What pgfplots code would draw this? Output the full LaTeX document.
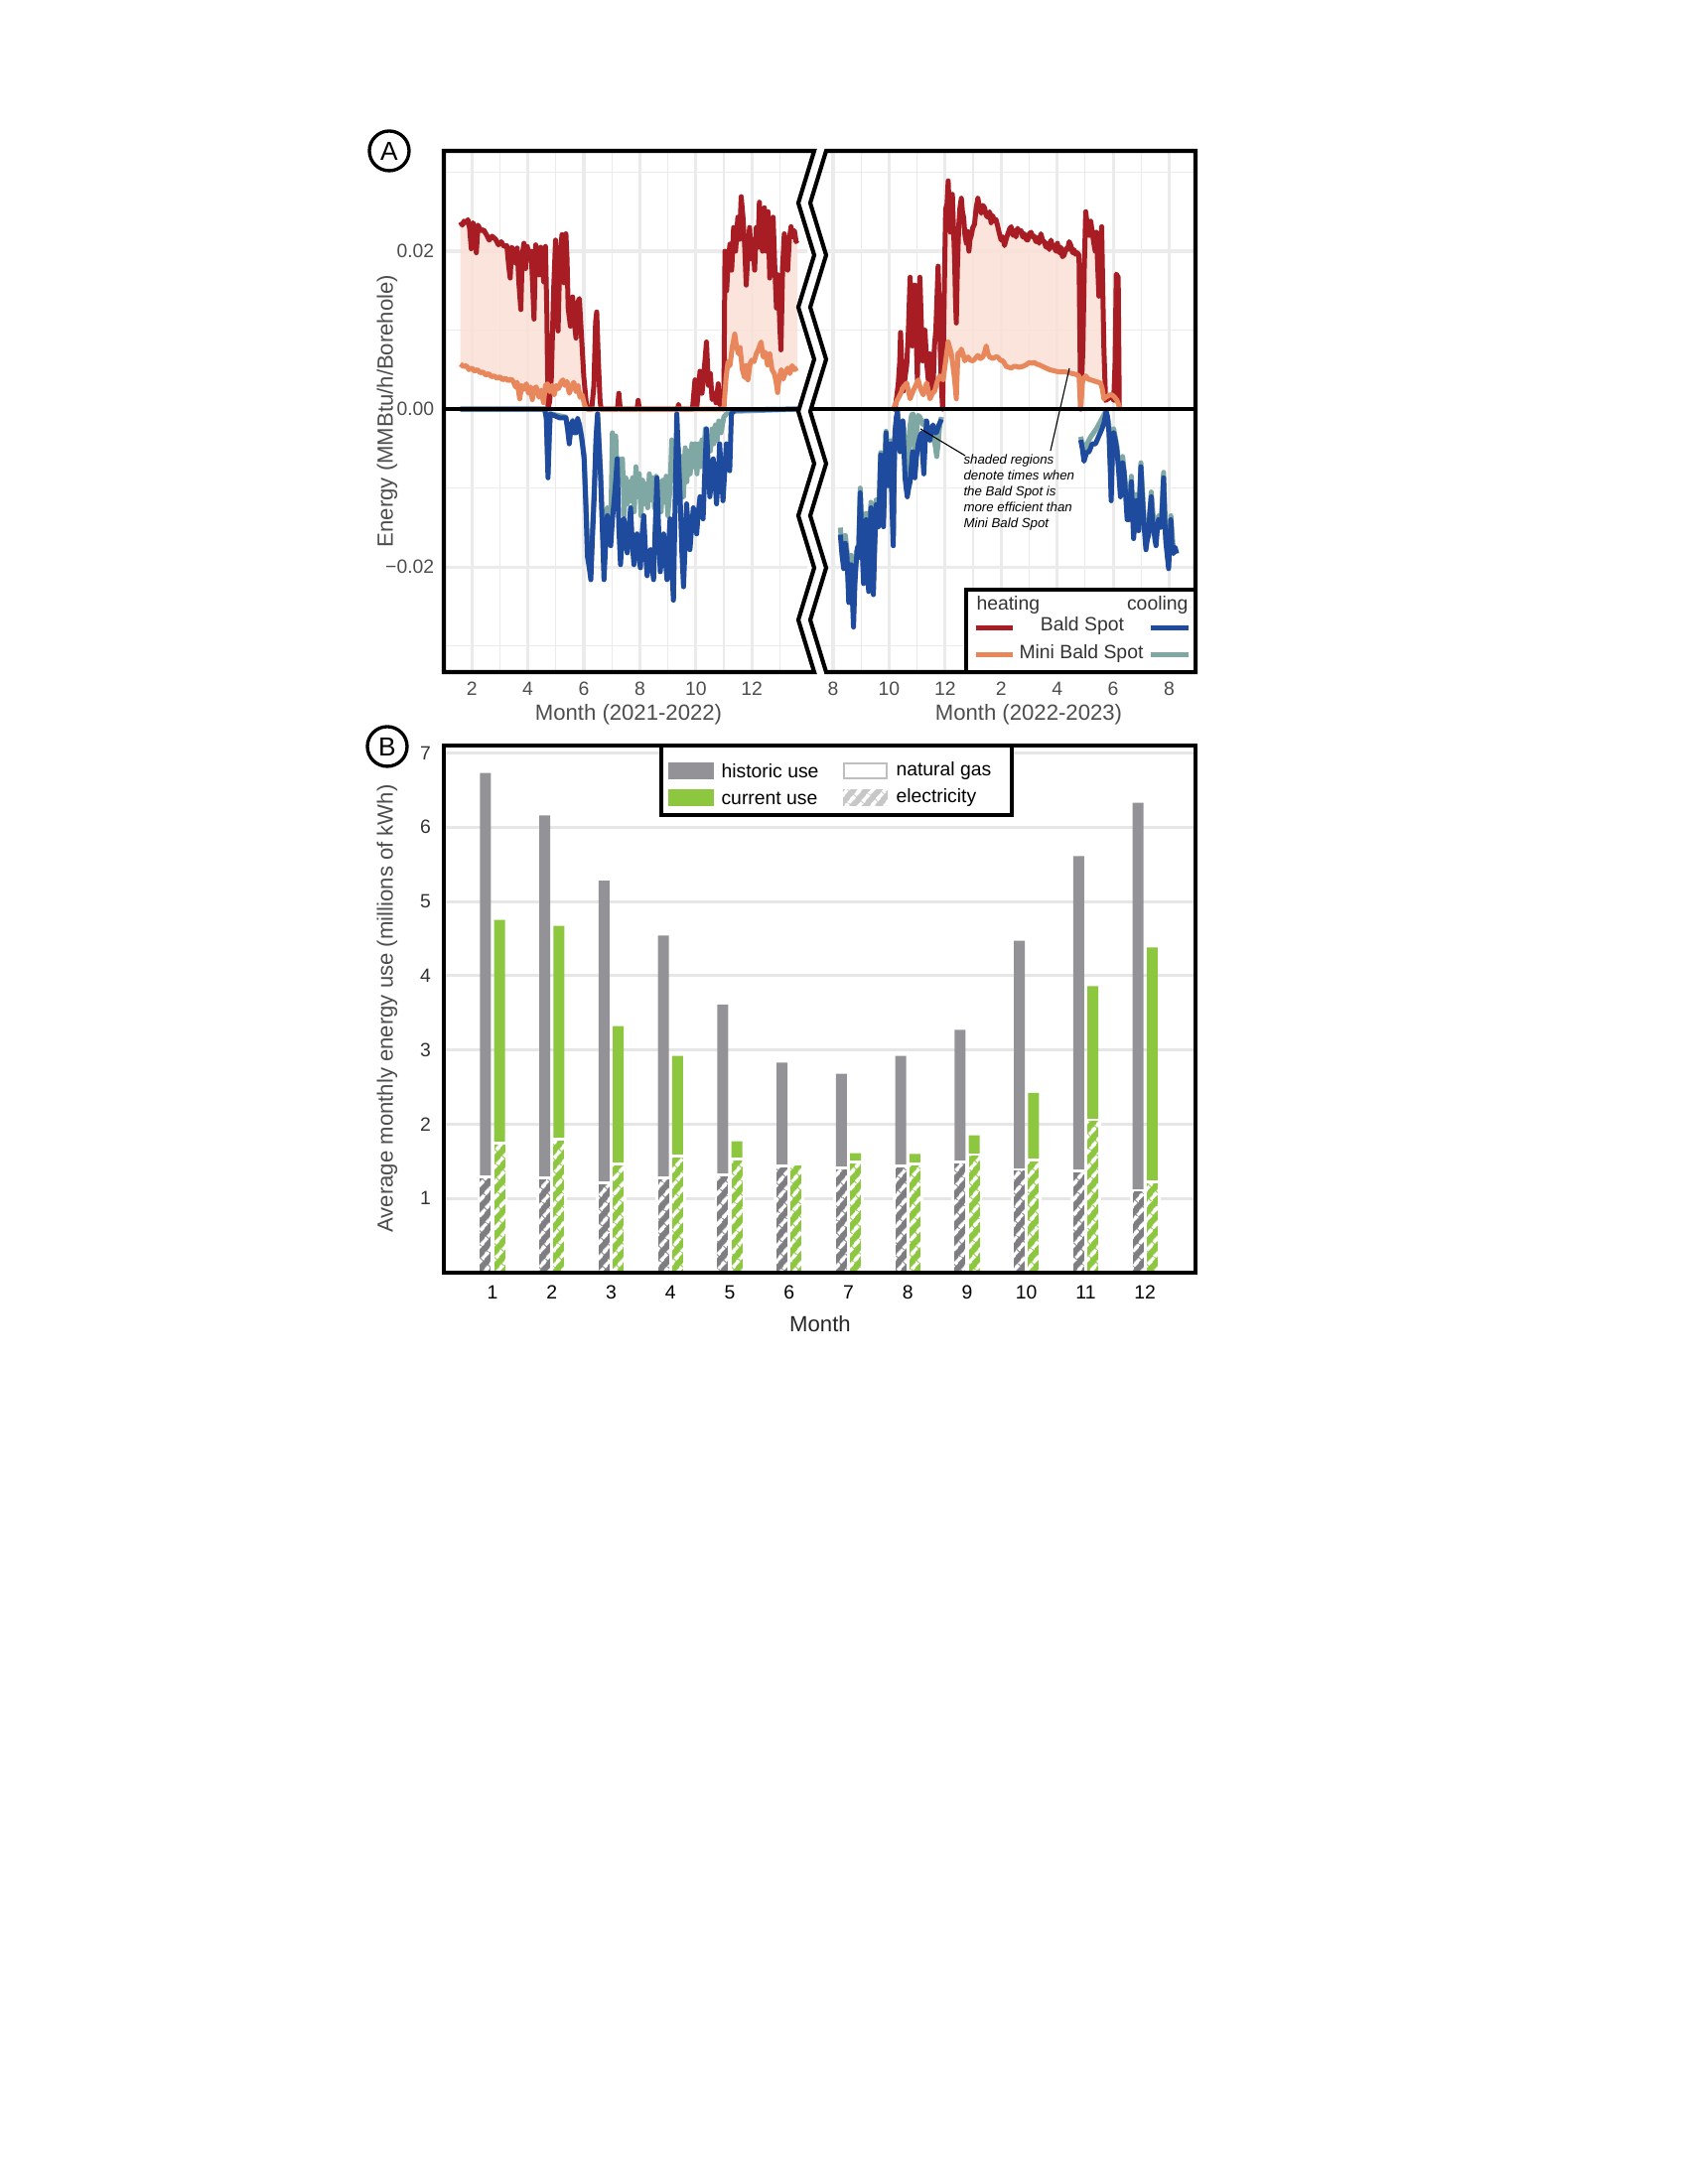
\documentclass[border=0pt]{standalone}
\usepackage{fontspec}
\setmainfont{Liberation Sans}
\usepackage{pgfplots}
\usepackage{pgfplotstable}
\pgfplotsset{compat=1.18}
\usepgfplotslibrary{fillbetween}
\usetikzlibrary{patterns.meta}

\definecolor{heatbs}{HTML}{A81C23}
\definecolor{heatmini}{HTML}{E8875C}
\definecolor{coolbs}{HTML}{1F4B9E}
\definecolor{coolmini}{HTML}{7FA7A3}
\definecolor{shade}{HTML}{F9E1D7}
\definecolor{gridA}{HTML}{EBEBEB}
\definecolor{gridB}{HTML}{E6E6E6}
\definecolor{labgray}{HTML}{4D4D4D}
\definecolor{histgray}{HTML}{939397}
\definecolor{histgrayD}{HTML}{7E7E82}
\definecolor{curgreen}{HTML}{8DC63F}

% monthly energy use, millions of kWh (total and electricity part)
\pgfplotstableread{
m  ht   he   ct   ce
1  6.73 1.29 4.75 1.74
2  6.16 1.28 4.67 1.80
3  5.28 1.21 3.32 1.46
4  4.54 1.28 2.92 1.57
5  3.61 1.32 1.77 1.53
6  2.83 1.44 1.46 1.46
7  2.68 1.41 1.61 1.49
8  2.92 1.44 1.60 1.46
9  3.27 1.49 1.85 1.59
10 4.47 1.39 2.42 1.52
11 5.61 1.37 3.86 2.06
12 6.33 1.11 4.38 1.22
}\energy

\pgfplotsset{
  panelA/.style={
    scale only axis, height=189bp,
    ymin=-0.0333, ymax=0.0327,
    axis line style={draw=none}, tick style={draw=none},
    major tick length=0pt, minor tick length=0pt,
    ytick={-0.02,0,0.02}, scaled y ticks=false,
    minor ytick={-0.03,-0.01,0.01,0.03},
    grid=both,
    major grid style={line width=1.1bp, color=gridA},
    minor grid style={line width=0.45bp, color=gridA},
    tick label style={font=\fontsize{7}{8}\selectfont, color=labgray},
    set layers, unbounded coords=jump,
  },
}
\tikzset{
  bsheat/.style={color=heatbs, line width=1.8bp, line join=round},
  miniheat/.style={color=heatmini, line width=1.8bp, line join=round},
  bscool/.style={color=coolbs, line width=1.8bp, line join=round},
  minicool/.style={color=coolmini, line width=1.8bp, line join=round},
  hatch/.style={postaction={pattern={Lines[angle=50,distance=3.6bp,line width=1.4bp]}, pattern color=white}},
}

\begin{document}
\begin{tikzpicture}
% page frame, 1 px = 0.36bp
\path (0,0) rectangle (612bp,792bp);

% ---------------- panel A, 2021-2022
\begin{axis}[panelA,
  at={(160.92bp,548.28bp)}, anchor=south west, width=131.76bp,
  xmin=1, xmax=13.98,
  xtick={2,4,...,12}, xticklabels={2,4,6,8,10,12},
  minor xtick={3,5,...,13},
  yticklabels={−0.02,0.00,0.02},
]
\addplot[bsheat, name path=redL] coordinates {
(1.59,0.0237) (1.66,0.0233) (1.72,0.0238) (1.80,0.0236) (1.86,0.0240) (1.92,0.0229) (1.98,0.0203) (2.04,0.0236) (2.10,0.0230) (2.16,0.0198) (2.22,0.0233) (2.32,0.0226) (2.42,0.0227) (2.52,0.0221) (2.62,0.0214) (2.72,0.0219) (2.85,0.0215) (2.95,0.0208) (3.05,0.0212) (3.15,0.0206) (3.25,0.0207) (3.32,0.0180) (3.37,0.0166) (3.42,0.0205) (3.50,0.0201) (3.56,0.0185) (3.62,0.0204) (3.68,0.0160) (3.75,0.0126) (3.80,0.0195) (3.86,0.0210) (3.92,0.0178) (3.98,0.0206) (4.05,0.0190) (4.12,0.0200) (4.18,0.0150) (4.22,0.0114) (4.28,0.0208) (4.34,0.0195) (4.40,0.0170) (4.46,0.0205) (4.52,0.0180) (4.57,0.0161) (4.63,0.0206) (4.68,0.0120) (4.72,0.0000) (4.78,0.0010) (4.84,0.0040) (4.92,0.0150) (4.99,0.0214) (5.04,0.0160) (5.08,0.0099) (5.14,0.0190) (5.22,0.0221) (5.29,0.0160) (5.36,0.0222) (5.40,0.0190) (5.44,0.0128) (5.52,0.0105) (5.60,0.0142) (5.66,0.0110) (5.72,0.0090) (5.78,0.0135) (5.84,0.0140) (5.92,0.0090) (6.00,0.0040) (6.08,0.0010) (6.13,0.0000) (6.28,0.0000) (6.36,0.0030) (6.42,0.0110) (6.46,0.0123) (6.52,0.0060) (6.58,0.0010) (6.62,0.0000) (7.20,0.0000) (7.25,0.0020) (7.30,0.0000) (7.90,0.0000) (7.94,0.0011) (7.98,0.0000) (9.35,0.0000) (9.38,0.0006) (9.42,0.0000) (9.88,0.0000) (9.97,0.0037) (10.04,0.0004) (10.15,0.0048) (10.22,0.0020) (10.30,0.0050) (10.38,0.0085) (10.45,0.0030) (10.52,0.0045) (10.58,0.0012) (10.66,0.0020) (10.72,0.0008) (10.80,0.0032) (10.86,0.0005) (10.95,0.0012) (11.00,0.0005) (11.04,0.0200) (11.10,0.0150) (11.16,0.0190) (11.22,0.0209) (11.28,0.0176) (11.35,0.0230) (11.42,0.0200) (11.50,0.0243) (11.56,0.0215) (11.62,0.0269) (11.68,0.0245) (11.74,0.0210) (11.80,0.0157) (11.86,0.0200) (11.92,0.0230) (11.98,0.0190) (12.04,0.0215) (12.10,0.0176) (12.16,0.0230) (12.22,0.0205) (12.27,0.0262) (12.33,0.0215) (12.38,0.0200) (12.45,0.0255) (12.52,0.0200) (12.58,0.0250) (12.64,0.0166) (12.70,0.0220) (12.76,0.0243) (12.82,0.0180) (12.88,0.0128) (12.94,0.0170) (13.00,0.0105) (13.04,0.0075) (13.10,0.0180) (13.16,0.0222) (13.22,0.0200) (13.28,0.0176) (13.34,0.0215) (13.40,0.0231) (13.46,0.0218) (13.52,0.0226) (13.58,0.0212) (13.63,0.0214)
};
\addplot[miniheat, name path=orL] coordinates {
(1.59,0.0057) (1.70,0.0054) (1.80,0.0055) (1.90,0.0050) (2.00,0.0052) (2.10,0.0048) (2.20,0.0050) (2.30,0.0046) (2.40,0.0047) (2.50,0.0043) (2.60,0.0045) (2.70,0.0041) (2.80,0.0042) (2.90,0.0039) (3.00,0.0041) (3.10,0.0037) (3.20,0.0039) (3.30,0.0036) (3.40,0.0038) (3.48,0.0035) (3.56,0.0028) (3.62,0.0034) (3.71,0.0013) (3.78,0.0030) (3.86,0.0025) (3.95,0.0032) (4.02,0.0020) (4.10,0.0028) (4.16,0.0012) (4.22,0.0026) (4.30,0.0028) (4.40,0.0015) (4.48,0.0024) (4.56,0.0008) (4.63,0.0030) (4.70,0.0032) (4.78,0.0022) (4.86,0.0030) (4.94,0.0018) (5.02,0.0030) (5.10,0.0026) (5.18,0.0034) (5.25,0.0037) (5.32,0.0030) (5.40,0.0035) (5.48,0.0020) (5.56,0.0028) (5.64,0.0034) (5.72,0.0022) (5.80,0.0030) (5.86,0.0015) (5.94,0.0018) (6.02,0.0006) (6.10,0.0000) (11.00,0.0000) (11.08,0.0040) (11.15,0.0060) (11.22,0.0055) (11.30,0.0078) (11.39,0.0095) (11.45,0.0080) (11.52,0.0070) (11.58,0.0078) (11.66,0.0050) (11.74,0.0040) (11.80,0.0055) (11.86,0.0037) (11.94,0.0058) (12.00,0.0062) (12.08,0.0060) (12.16,0.0070) (12.24,0.0076) (12.33,0.0085) (12.40,0.0066) (12.48,0.0072) (12.56,0.0056) (12.64,0.0070) (12.72,0.0050) (12.80,0.0045) (12.86,0.0036) (12.92,0.0021) (12.98,0.0040) (13.05,0.0050) (13.12,0.0038) (13.20,0.0046) (13.28,0.0052) (13.36,0.0045) (13.44,0.0055) (13.52,0.0050) (13.63,0.0052)
};
\addplot[fill=shade, draw=none, fill opacity=0.9] fill between[of=redL and orL, soft clip={domain=1.59:5.9}];
\addplot[fill=shade, draw=none, fill opacity=0.9] fill between[of=redL and orL, soft clip={domain=11.0:13.63}];
\addplot[minicool] coordinates {
(1.59,0.0000) (4.60,0.0000) (4.66,-0.0011) (4.72,-0.0080) (4.77,-0.0028) (4.80,-0.0006) (5.36,-0.0010) (5.48,-0.0040) (5.60,-0.0014) (5.72,-0.0028) (5.84,-0.0018) (6.01,-0.0058) (6.13,-0.0175) (6.25,-0.0200) (6.37,-0.0100) (6.49,-0.0006) (6.60,-0.0080) (6.72,-0.0195) (6.84,-0.0125) (6.96,-0.0150) (7.02,-0.0030) (7.08,-0.0082) (7.14,-0.0034) (7.20,-0.0101) (7.26,-0.0063) (7.32,-0.0092) (7.38,-0.0063) (7.44,-0.0135) (7.50,-0.0087) (7.56,-0.0120) (7.62,-0.0092) (7.68,-0.0116) (7.74,-0.0087) (7.80,-0.0130) (7.86,-0.0073) (7.92,-0.0111) (7.98,-0.0082) (8.04,-0.0135) (8.10,-0.0090) (8.16,-0.0120) (8.22,-0.0095) (8.28,-0.0125) (8.34,-0.0082) (8.40,-0.0115) (8.46,-0.0087) (8.52,-0.0125) (8.58,-0.0085) (8.64,-0.0110) (8.70,-0.0092) (8.76,-0.0130) (8.82,-0.0090) (8.88,-0.0118) (8.94,-0.0085) (9.00,-0.0135) (9.08,-0.0100) (9.14,-0.0039) (9.20,-0.0090) (9.26,-0.0053) (9.32,-0.0106) (9.38,-0.0049) (9.44,-0.0100) (9.50,-0.0060) (9.56,-0.0111) (9.62,-0.0049) (9.68,-0.0092) (9.74,-0.0053) (9.80,-0.0082) (9.86,-0.0044) (9.92,-0.0073) (9.98,-0.0044) (10.04,-0.0082) (10.10,-0.0044) (10.16,-0.0073) (10.22,-0.0039) (10.28,-0.0063) (10.34,-0.0025) (10.40,-0.0063) (10.46,-0.0034) (10.52,-0.0053) (10.58,-0.0025) (10.64,-0.0044) (10.70,-0.0020) (10.76,-0.0040) (10.82,-0.0015) (10.90,-0.0030) (11.00,-0.0010) (11.10,-0.0006) (11.20,-0.0003) (13.63,0.0000)
};
\addplot[bscool] coordinates {
(1.59,0.0000) (4.60,0.0000) (4.66,-0.0011) (4.72,-0.0087) (4.77,-0.0030) (4.80,-0.0006) (5.13,-0.0011) (5.36,-0.0011) (5.42,-0.0025) (5.48,-0.0044) (5.54,-0.0020) (5.60,-0.0015) (5.66,-0.0030) (5.72,-0.0030) (5.78,-0.0012) (5.84,-0.0020) (5.92,-0.0035) (6.01,-0.0063) (6.07,-0.0120) (6.13,-0.0187) (6.19,-0.0200) (6.25,-0.0216) (6.31,-0.0160) (6.37,-0.0111) (6.43,-0.0040) (6.49,-0.0006) (6.55,-0.0050) (6.60,-0.0087) (6.66,-0.0150) (6.72,-0.0216) (6.78,-0.0170) (6.84,-0.0135) (6.90,-0.0160) (6.96,-0.0173) (7.02,-0.0140) (7.08,-0.0116) (7.14,-0.0090) (7.19,-0.0063) (7.25,-0.0150) (7.31,-0.0197) (7.37,-0.0160) (7.43,-0.0139) (7.49,-0.0170) (7.55,-0.0182) (7.61,-0.0150) (7.67,-0.0125) (7.73,-0.0170) (7.79,-0.0197) (7.85,-0.0165) (7.90,-0.0158) (7.96,-0.0185) (8.02,-0.0201) (8.08,-0.0160) (8.14,-0.0135) (8.20,-0.0180) (8.26,-0.0211) (8.32,-0.0190) (8.38,-0.0178) (8.44,-0.0200) (8.49,-0.0216) (8.55,-0.0150) (8.61,-0.0087) (8.67,-0.0150) (8.73,-0.0206) (8.79,-0.0180) (8.85,-0.0158) (8.91,-0.0190) (8.97,-0.0216) (9.03,-0.0170) (9.08,-0.0139) (9.14,-0.0200) (9.20,-0.0242) (9.26,-0.0120) (9.32,-0.0006) (9.38,-0.0060) (9.44,-0.0111) (9.50,-0.0180) (9.56,-0.0225) (9.62,-0.0170) (9.67,-0.0120) (9.73,-0.0150) (9.79,-0.0178) (9.85,-0.0150) (9.91,-0.0125) (9.97,-0.0140) (10.03,-0.0158) (10.09,-0.0130) (10.15,-0.0111) (10.21,-0.0125) (10.26,-0.0139) (10.32,-0.0080) (10.38,-0.0025) (10.44,-0.0070) (10.50,-0.0111) (10.56,-0.0090) (10.62,-0.0063) (10.68,-0.0090) (10.74,-0.0120) (10.80,-0.0085) (10.85,-0.0044) (10.91,-0.0080) (10.97,-0.0116) (11.03,-0.0080) (11.09,-0.0044) (11.15,-0.0060) (11.21,-0.0078) (11.27,-0.0006) (11.39,-0.0001) (13.63,0.0000)
};
\end{axis}

% ---------------- panel A, 2022-2023
\begin{axis}[panelA,
  at={(297.36bp,548.28bp)}, anchor=south west, width=136.08bp,
  xmin=7.54, xmax=20.94,
  xtick={8,10,...,20}, xticklabels={8,10,12,2,4,6,8},
  minor xtick={9,11,...,19},
  yticklabels={,,},
]
\addplot[bsheat, name path=redR] coordinates {
(10.15,0.0000) (10.21,0.0000) (10.27,0.0015) (10.33,0.0033) (10.38,0.0060) (10.41,0.0097) (10.46,0.0050) (10.51,0.0023) (10.57,0.0040) (10.63,0.0056) (10.69,0.0100) (10.75,0.0167) (10.80,0.0120) (10.83,0.0080) (10.88,0.0140) (10.92,0.0157) (10.97,0.0090) (11.01,0.0037) (11.06,0.0120) (11.10,0.0167) (11.15,0.0110) (11.20,0.0061) (11.24,0.0090) (11.28,0.0100) (11.34,0.0060) (11.40,0.0037) (11.45,0.0070) (11.48,0.0061) (11.53,0.0030) (11.57,0.0023) (11.62,0.0080) (11.67,0.0100) (11.72,0.0150) (11.75,0.0181) (11.80,0.0120) (11.83,0.0071) (11.87,0.0030) (11.91,0.0000) (11.95,0.0100) (11.99,0.0190) (12.02,0.0253) (12.07,0.0260) (12.11,0.0289) (12.15,0.0250) (12.19,0.0224) (12.23,0.0260) (12.26,0.0272) (12.30,0.0230) (12.34,0.0190) (12.37,0.0140) (12.40,0.0109) (12.44,0.0180) (12.49,0.0234) (12.53,0.0255) (12.58,0.0267) (12.62,0.0250) (12.66,0.0243) (12.71,0.0220) (12.76,0.0210) (12.80,0.0225) (12.85,0.0200) (12.89,0.0215) (12.93,0.0219) (12.99,0.0230) (13.05,0.0234) (13.11,0.0255) (13.17,0.0267) (13.23,0.0255) (13.29,0.0248) (13.35,0.0258) (13.41,0.0255) (13.47,0.0245) (13.53,0.0243) (13.59,0.0250) (13.64,0.0236) (13.70,0.0245) (13.76,0.0238) (13.82,0.0240) (13.88,0.0231) (13.94,0.0222) (14.00,0.0214) (14.06,0.0218) (14.12,0.0207) (14.18,0.0215) (14.24,0.0222) (14.30,0.0228) (14.36,0.0231) (14.42,0.0220) (14.47,0.0226) (14.53,0.0218) (14.59,0.0229) (14.65,0.0224) (14.71,0.0226) (14.77,0.0218) (14.83,0.0222) (14.89,0.0215) (14.95,0.0214) (15.01,0.0222) (15.07,0.0224) (15.13,0.0218) (15.18,0.0219) (15.24,0.0212) (15.30,0.0217) (15.36,0.0210) (15.42,0.0222) (15.48,0.0214) (15.54,0.0212) (15.60,0.0205) (15.66,0.0210) (15.72,0.0202) (15.78,0.0214) (15.84,0.0205) (15.89,0.0207) (15.95,0.0200) (16.01,0.0210) (16.07,0.0198) (16.13,0.0205) (16.19,0.0193) (16.25,0.0195) (16.31,0.0203) (16.37,0.0202) (16.43,0.0212) (16.49,0.0207) (16.55,0.0198) (16.60,0.0202) (16.66,0.0196) (16.72,0.0198) (16.78,0.0195) (16.81,0.0100) (16.84,0.0000) (16.88,0.0040) (16.92,0.0076) (16.97,0.0180) (17.02,0.0250) (17.07,0.0235) (17.11,0.0234) (17.15,0.0220) (17.20,0.0238) (17.25,0.0225) (17.31,0.0210) (17.36,0.0200) (17.40,0.0224) (17.45,0.0180) (17.49,0.0143) (17.54,0.0200) (17.59,0.0231) (17.63,0.0150) (17.67,0.0076) (17.73,0.0011) (17.82,0.0013) (17.94,0.0018) (18.02,0.0011) (18.07,0.0060) (18.11,0.0171) (18.18,0.0167) (18.22,0.0000)
};
\addplot[miniheat, name path=orR] coordinates {
(10.15,0.0000) (10.27,0.0010) (10.39,0.0018) (10.51,0.0028) (10.63,0.0033) (10.75,0.0013) (10.86,0.0023) (10.95,0.0030) (11.04,0.0037) (11.13,0.0025) (11.22,0.0018) (11.34,0.0033) (11.46,0.0013) (11.55,0.0020) (11.63,0.0023) (11.72,0.0035) (11.81,0.0042) (11.93,0.0037) (12.02,0.0061) (12.11,0.0085) (12.16,0.0078) (12.22,0.0071) (12.28,0.0055) (12.34,0.0037) (12.40,0.0013) (12.46,0.0071) (12.52,0.0068) (12.58,0.0076) (12.64,0.0070) (12.70,0.0061) (12.76,0.0064) (12.82,0.0066) (12.90,0.0062) (12.99,0.0061) (13.08,0.0064) (13.17,0.0068) (13.26,0.0064) (13.35,0.0066) (13.41,0.0072) (13.47,0.0080) (13.53,0.0070) (13.59,0.0066) (13.70,0.0064) (13.80,0.0066) (13.88,0.0066) (13.97,0.0062) (14.06,0.0061) (14.12,0.0058) (14.18,0.0054) (14.27,0.0053) (14.36,0.0052) (14.45,0.0054) (14.53,0.0054) (14.65,0.0053) (14.77,0.0054) (14.89,0.0056) (15.01,0.0059) (15.10,0.0058) (15.18,0.0059) (15.27,0.0057) (15.36,0.0056) (15.48,0.0054) (15.60,0.0052) (15.72,0.0050) (15.83,0.0049) (15.95,0.0048) (16.07,0.0047) (16.19,0.0047) (16.31,0.0047) (16.42,0.0046) (16.54,0.0045) (16.66,0.0044) (16.78,0.0042) (16.84,0.0000) (16.90,0.0033) (16.96,0.0040) (17.02,0.0042) (17.11,0.0038) (17.20,0.0037) (17.29,0.0036) (17.37,0.0035) (17.46,0.0034) (17.55,0.0033) (17.61,0.0026) (17.67,0.0013) (17.73,0.0015) (17.79,0.0016) (17.87,0.0018) (17.96,0.0018) (18.05,0.0015) (18.14,0.0011) (18.20,0.0005) (18.26,0.0001)
};
\addplot[fill=shade, draw=none, fill opacity=0.9] fill between[of=redR and orR, soft clip={domain=11.93:18.22}];
\addplot[minicool] coordinates {
(8.26,-0.0150) (8.32,-0.0175) (8.38,-0.0190) (8.44,-0.0160) (8.50,-0.0180) (8.56,-0.0230) (8.64,-0.0185) (8.73,-0.0255) (8.83,-0.0180) (8.91,-0.0178) (8.97,-0.0100) (9.09,-0.0205) (9.18,-0.0132) (9.27,-0.0215) (9.35,-0.0118) (9.44,-0.0220) (9.54,-0.0115) (9.62,-0.0140) (9.70,-0.0055) (9.80,-0.0140) (9.89,-0.0028) (9.98,-0.0090) (10.06,-0.0040) (10.15,-0.0160) (10.21,-0.0028) (10.30,-0.0003) (10.39,-0.0050) (10.49,-0.0015) (10.55,-0.0030) (10.61,-0.0090) (10.68,-0.0100) (10.75,-0.0020) (10.80,-0.0008) (10.86,-0.0006) (10.92,-0.0050) (10.98,-0.0030) (11.04,-0.0008) (11.10,-0.0010) (11.16,-0.0015) (11.22,-0.0020) (11.28,-0.0015) (11.40,-0.0025) (11.46,-0.0040) (11.52,-0.0030) (11.58,-0.0025) (11.64,-0.0045) (11.70,-0.0060) (11.75,-0.0044) (11.81,-0.0020) (11.87,-0.0010)
(12,nan)
(16.84,-0.0035) (16.96,-0.0055) (17.05,-0.0045) (17.20,-0.0035) (17.40,-0.0025) (17.60,-0.0012) (17.75,-0.0002) (17.85,-0.0020) (17.93,-0.0095) (18.02,-0.0025) (18.14,-0.0048) (18.26,-0.0100) (18.34,-0.0060) (18.44,-0.0095) (18.56,-0.0130) (18.65,-0.0085) (18.73,-0.0150) (18.83,-0.0108) (18.91,-0.0145) (18.99,-0.0068) (19.09,-0.0130) (19.17,-0.0170) (19.27,-0.0150) (19.36,-0.0105) (19.44,-0.0140) (19.53,-0.0165) (19.62,-0.0135) (19.72,-0.0140) (19.80,-0.0080) (19.88,-0.0160) (19.98,-0.0195) (20.06,-0.0135) (20.15,-0.0178) (20.27,-0.0178)
};
\addplot[bscool] coordinates {
(8.26,-0.0159) (8.32,-0.0185) (8.38,-0.0202) (8.44,-0.0170) (8.50,-0.0188) (8.56,-0.0245) (8.60,-0.0210) (8.64,-0.0197) (8.68,-0.0230) (8.73,-0.0276) (8.78,-0.0220) (8.83,-0.0192) (8.87,-0.0175) (8.91,-0.0188) (8.97,-0.0106) (9.03,-0.0170) (9.09,-0.0221) (9.14,-0.0170) (9.18,-0.0140) (9.22,-0.0180) (9.27,-0.0231) (9.31,-0.0170) (9.35,-0.0125) (9.40,-0.0180) (9.44,-0.0235) (9.49,-0.0170) (9.54,-0.0121) (9.58,-0.0140) (9.62,-0.0149) (9.66,-0.0110) (9.70,-0.0058) (9.75,-0.0110) (9.80,-0.0149) (9.85,-0.0080) (9.89,-0.0030) (9.94,-0.0070) (9.98,-0.0097) (10.02,-0.0060) (10.06,-0.0044) (10.10,-0.0120) (10.15,-0.0173) (10.18,-0.0080) (10.21,-0.0030) (10.26,-0.0010) (10.30,-0.0003) (10.35,-0.0040) (10.39,-0.0054) (10.44,-0.0030) (10.49,-0.0015) (10.53,-0.0050) (10.57,-0.0087) (10.61,-0.0100) (10.65,-0.0111) (10.70,-0.0100) (10.75,-0.0092) (10.80,-0.0070) (10.84,-0.0054) (10.88,-0.0075) (10.92,-0.0087) (10.98,-0.0060) (11.04,-0.0044) (11.10,-0.0035) (11.16,-0.0030) (11.20,-0.0060) (11.24,-0.0082) (11.29,-0.0040) (11.34,-0.0015) (11.40,-0.0030) (11.46,-0.0039) (11.52,-0.0025) (11.57,-0.0020) (11.63,-0.0030) (11.69,-0.0030) (11.78,-0.0020) (11.87,-0.0013)
(12,nan)
(16.84,-0.0039) (16.90,-0.0050) (16.96,-0.0066) (17.05,-0.0055) (17.14,-0.0054) (17.25,-0.0044) (17.37,-0.0044) (17.49,-0.0034) (17.60,-0.0025) (17.67,-0.0018) (17.75,-0.0003) (17.80,-0.0010) (17.85,-0.0030) (17.90,-0.0080) (17.93,-0.0116) (17.97,-0.0060) (18.02,-0.0030) (18.08,-0.0040) (18.14,-0.0054) (18.20,-0.0080) (18.26,-0.0111) (18.30,-0.0090) (18.34,-0.0068) (18.39,-0.0080) (18.44,-0.0106) (18.50,-0.0140) (18.56,-0.0140) (18.60,-0.0120) (18.65,-0.0092) (18.69,-0.0130) (18.73,-0.0164) (18.78,-0.0140) (18.83,-0.0116) (18.87,-0.0130) (18.91,-0.0154) (18.95,-0.0110) (18.99,-0.0073) (19.04,-0.0110) (19.09,-0.0140) (19.13,-0.0160) (19.17,-0.0178) (19.22,-0.0165) (19.27,-0.0159) (19.31,-0.0130) (19.36,-0.0111) (19.40,-0.0140) (19.44,-0.0149) (19.49,-0.0165) (19.53,-0.0173) (19.58,-0.0150) (19.62,-0.0140) (19.67,-0.0150) (19.72,-0.0149) (19.76,-0.0120) (19.80,-0.0087) (19.84,-0.0140) (19.88,-0.0168) (19.93,-0.0185) (19.98,-0.0202) (20.02,-0.0170) (20.06,-0.0140) (20.10,-0.0175) (20.15,-0.0183) (20.21,-0.0175) (20.27,-0.0183)
};
\end{axis}

% ---------------- panel B
\begin{axis}[
  at={(160.92bp,330.48bp)}, anchor=south west,
  scale only axis, width=272.52bp, height=191.16bp,
  xmin=0.18, xmax=12.85, ymin=0, ymax=7.1,
  axis line style={draw=none}, tick style={draw=none},
  major tick length=0pt,
  xtick={1,...,12}, ytick={1,...,7},
  ymajorgrids, major grid style={line width=1.1bp, color=gridB},
  /pgf/number format/assume math mode=true,
  xticklabel style={font=\fontsize{7}{8}\selectfont, color=black, yshift=-1.2bp},
  yticklabel style={font=\fontsize{7}{8}\selectfont, color=black!80, xshift=-1.2bp},
  ybar, bar width=0.185,
]
\addplot[ybar, fill=histgray, draw=none, bar shift=-0.12] table[x=m, y=ht] {\energy};
\addplot[ybar, fill=histgrayD, draw=white, line width=1bp, bar width=0.232, bar shift=-0.12, hatch] table[x=m, y=he] {\energy};
\addplot[ybar, fill=curgreen, draw=none, bar shift=0.12] table[x=m, y=ct] {\energy};
\addplot[ybar, fill=curgreen, draw=white, line width=1bp, bar width=0.232, bar shift=0.12, hatch] table[x=m, y=ce] {\energy};
\end{axis}

% ---------------- frames, break, legends and labels (page pixels)
\begin{scope}[x=0.36bp, y=-0.36bp, shift={(0bp,792bp)}]
  % zero line
  \draw[line width=1.3bp] (447,412) -- (1204,412);
  % gap of the axis break
  \fill[white] (820,152) -- (804,204.5) -- (820,257) -- (804,309.5) -- (820,362) -- (804,414.5) -- (820,467) -- (804,519.5) -- (820,572) -- (804,624.5) -- (820,677)
    -- (832,677) -- (816,624.5) -- (832,572) -- (816,519.5) -- (832,467) -- (816,414.5) -- (832,362) -- (816,309.5) -- (832,257) -- (816,204.5) -- (832,152) -- cycle;
  % panel A frames
  \draw[line width=1.5bp, line join=miter] (820,677) -- (447,677) -- (447,152) -- (820,152)
    -- (804,204.5) -- (820,257) -- (804,309.5) -- (820,362) -- (804,414.5) -- (820,467) -- (804,519.5) -- (820,572) -- (804,624.5) -- cycle;
  \draw[line width=1.5bp, line join=miter] (832,152) -- (1204,152) -- (1204,677) -- (832,677)
    -- (816,624.5) -- (832,572) -- (816,519.5) -- (832,467) -- (816,414.5) -- (832,362) -- (816,309.5) -- (832,257) -- (816,204.5) -- cycle;

  % annotation
  \node[anchor=north west, inner sep=0pt, align=left, font=\fontsize{4.8}{5.8}\selectfont\itshape] at (970,457)
    {shaded regions\\denote times when\\the Bald Spot is\\more efficient than\\Mini Bald Spot};
  \draw[line width=0.4bp] (972,459) -- (927,432);
  \draw[line width=0.4bp] (1058,454) -- (1077,371);

  % panel A legend
  \draw[line width=1.5bp, fill=white] (973,594) rectangle (1204,677);
  \begin{scope}[font=\fontsize{7}{8}\selectfont, text=black!80]
    \node[anchor=west, inner sep=0pt] at (983,610) {heating};
    \node[anchor=east, inner sep=0pt] at (1197,610) {cooling};
    \node[inner sep=0pt] at (1090,631) {Bald Spot};
    \node[inner sep=0pt] at (1089,659) {Mini Bald Spot};
  \end{scope}
  \draw[heatbs, line width=1.8bp] (983,633) -- (1020,633);
  \draw[coolbs, line width=1.8bp] (1159,633) -- (1197,633);
  \draw[heatmini, line width=1.8bp] (983,660) -- (1020,660);
  \draw[coolmini, line width=1.8bp] (1159,660) -- (1197,660);

  % panel A labels
  \node[rotate=90, font=\fontsize{8}{9}\selectfont, text=labgray] at (390,414) {Energy (MMBtu/h/Borehole)};
  \node[font=\fontsize{8}{9}\selectfont, text=labgray] at (633,720) {Month (2021-2022)};
  \node[font=\fontsize{8}{9}\selectfont, text=labgray] at (1036,720) {Month (2022-2023)};
  \draw[line width=1.2bp] (392,152) circle[radius=7.2bp];
  \node[font=\fontsize{9.5}{10}\selectfont] at (392,152) {A};

  % panel B frame and legend
  \draw[line width=1.5bp] (447,751) rectangle (1204,1282);
  \draw[line width=1.5bp, fill=white] (666,751) rectangle (1019,821);
  \fill[histgray] (673,768) rectangle (719,785);
  \fill[curgreen] (673,795) rectangle (719,812);
  \draw[color=black!25, line width=1bp, fill=white] (850,769) rectangle (893,784);
  \fill[black!22, hatch] (849,795) rectangle (894,812);
  \begin{scope}[font=\fontsize{7}{8}\selectfont]
    \node[anchor=west, inner sep=0pt] at (726,777) {historic use};
    \node[anchor=west, inner sep=0pt] at (726,804) {current use};
    \node[anchor=west, inner sep=0pt] at (902,777) {natural gas};
    \node[anchor=west, inner sep=0pt] at (902,804) {electricity};
  \end{scope}

  % panel B labels
  \node[rotate=90, font=\fontsize{8}{9}\selectfont, text=labgray] at (390,1016) {Average monthly energy use (millions of kWh)};
  \node[font=\fontsize{8}{9}\selectfont, text=black!85] at (826,1334) {Month};
  \draw[line width=1.2bp] (390,752) circle[radius=7.2bp];
  \node[font=\fontsize{9.5}{10}\selectfont] at (390,752) {B};
\end{scope}
\end{tikzpicture}
\end{document}
